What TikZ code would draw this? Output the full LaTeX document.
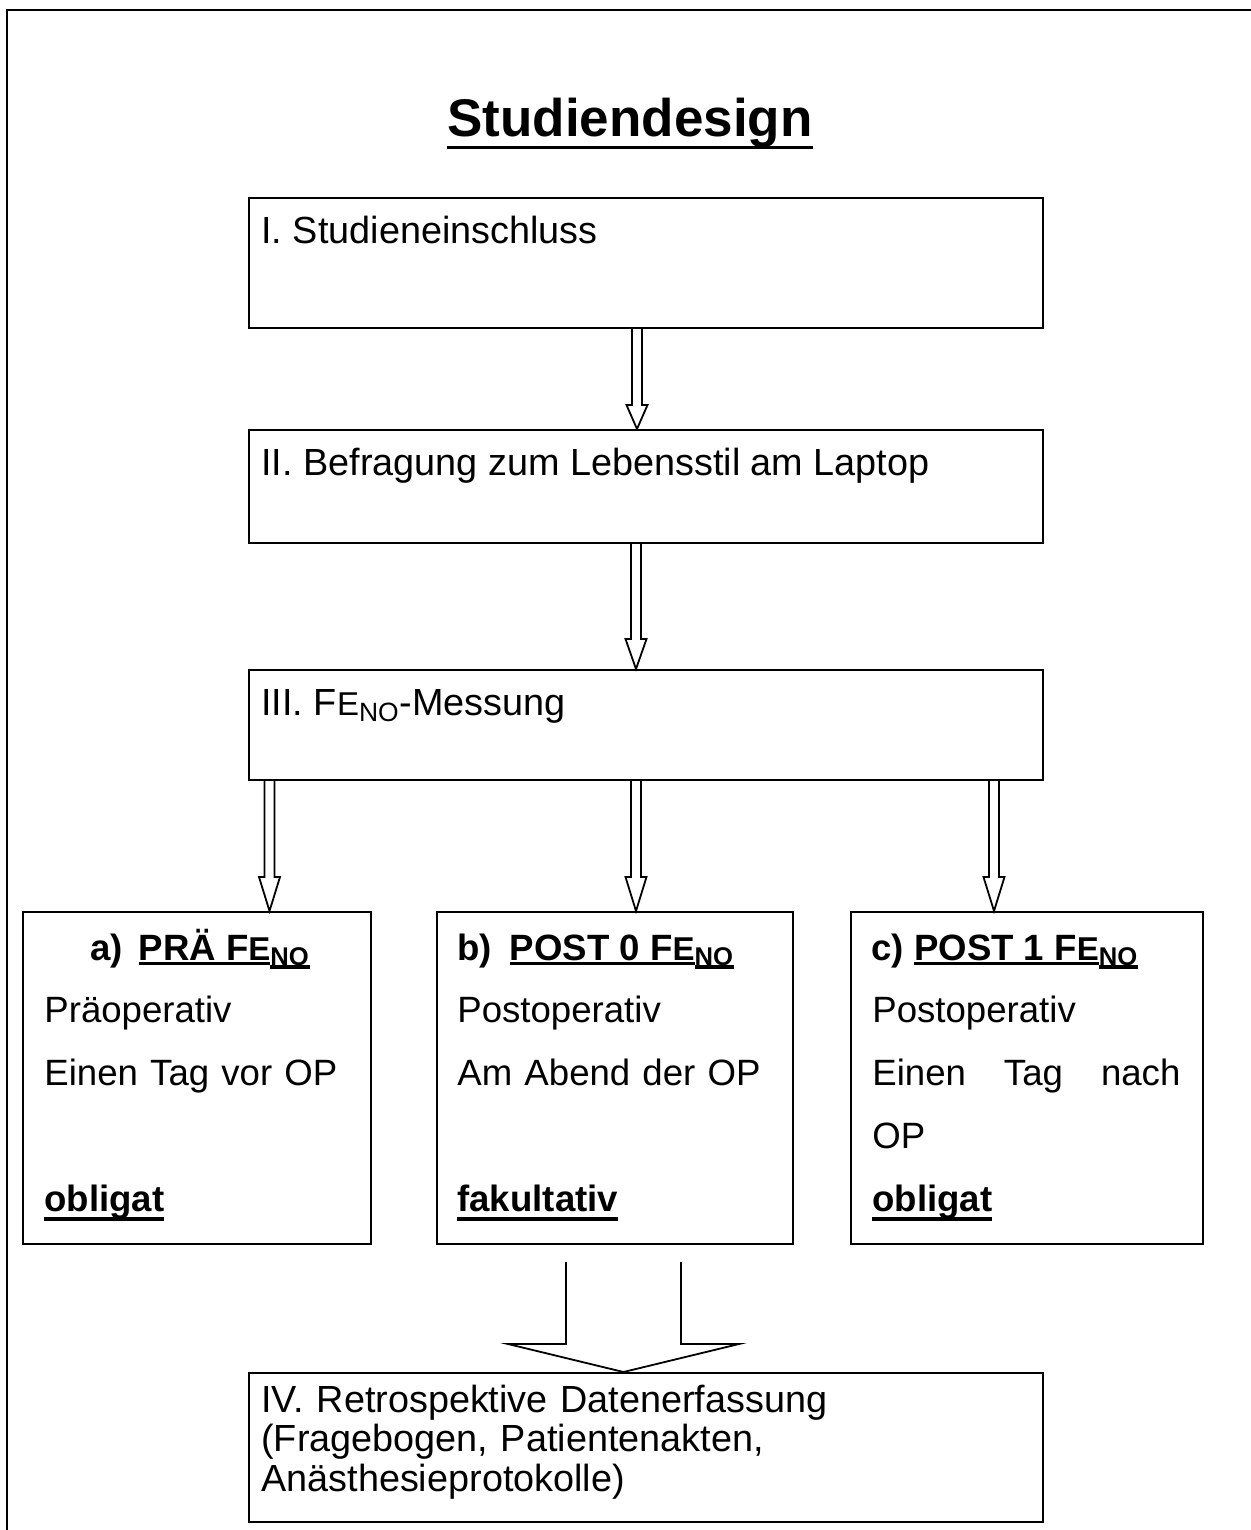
\documentclass[tikz,border=0pt]{standalone}
\usepackage{fontspec}
\setmainfont{Liberation Sans}
\usetikzlibrary{calc}

\newsavebox\ulbox
\newcommand{\ulin}[2][2.5pt]{\leavevmode\sbox\ulbox{#2}\rlap{\rule[-#1]{\wd\ulbox}{1.6pt}}\usebox\ulbox}
\newcommand{\feno}{F{\fontsize{16.5}{16.5}\selectfont E}}
\newcommand{\sno}{\textsubscript{NO}}
\newcommand{\hollow}[5]{\draw[arrowline] let \p1=(#1), \p2=(#2) in
  (\x1-#3,\y1) -- (\x1-#3,\y2+#5) -- (\x1-#4,\y2+#5) -- (\x1,\y2)
  -- (\x1+#4,\y2+#5) -- (\x1+#3,\y2+#5) -- (\x1+#3,\y1);}

\begin{document}
\begin{tikzpicture}[x=0.5pt,y=-0.5pt,line join=miter]

                \tikzset{box/.style={draw, line width=1pt, inner sep=0pt},
                         wide/.style={box, minimum width=397pt},
                         col/.style={box, minimum height=166pt},
                         txt/.style={anchor=base west, inner sep=0pt, font=\fontsize{18.9}{21}\selectfont},
                         head/.style={txt, font=\fontsize{18.3}{21}\selectfont\bfseries},
                         body/.style={txt, text width=154pt, align=left, font=\fontsize{18.3}{31.5}\selectfont},
                         arrowline/.style={line width=0.9pt}}

                \useasboundingbox (0,0) rectangle (1251,1530);
                \draw[line width=1.2pt] (1251,10) -| (7,1530);

                \node[anchor=base, inner sep=0pt, font=\fontsize{26.5}{30}\selectfont\bfseries] (title) at (630,137) {\ulin[6pt]{Studiendesign}};

                \node[wide, minimum height=65pt] (I) at (646,263) {};
                \node[wide, minimum height=56.5pt] (II) at (646,486.5) {};
                \node[wide, minimum height=55pt] (III) at (646,725) {};
                \node[col, minimum width=174pt] (a) at (197,1078) {};
                \node[col, minimum width=178pt] (b) at (615,1078) {};
                \node[col, minimum width=176pt] (c) at (1027,1078) {};
                \node[wide, minimum height=74.5pt] (IV) at (646,1447.5) {};

                \node[txt] (tI) at ($(I.north west)+(13,46)$) {I. Studieneinschluss};
                \node[txt] (tII) at ($(II.north west)+(13,46)$) {II. Befragung zum Lebensstil am Laptop};
                \node[txt] (tIII) at ($(III.north west)+(13,46)$) {III. \feno\sno-Messung};

                \node[head, anchor=base] (ha) at ($(a.north)+(3,49)$) {a)\hspace{8pt}\ulin{PRÄ \feno}\ulin[4.3pt]{\sno}};
                \node[head] (hb) at ($(b.north west)+(21,49)$) {b)\hspace{9pt}\ulin{POST 0 \feno}\ulin[4.3pt]{\sno}};
                \node[head] (hc) at ($(c.north west)+(21,49)$) {c) \ulin{POST 1 \feno}\ulin[4.3pt]{\sno}};

                \node[body] (ba) at ($(a.north west)+(22,111)$) {Präoperativ\\Einen Tag vor OP\\[31.5pt]\ulin[4.8pt]{\textbf{obligat}}};
                \node[body] (bb) at ($(b.north west)+(21,111)$) {Postoperativ\\Am Abend der OP\\[31.5pt]\ulin[4.8pt]{\textbf{fakultativ}}};
                \node[body] (bc) at ($(c.north west)+(22,111)$) {Postoperativ\\Einen\hfill Tag\hfill nach\\OP\\\ulin[4.8pt]{\textbf{obligat}}};

                \node[txt, text width=390pt, align=left, font=\fontsize{18.9}{19.75}\selectfont] (tIV) at ($(IV.north west)+(13,40)$) {IV. Retrospektive Datenerfassung\\(Fragebogen, Patientenakten,\\Anästhesieprotokolle)};

                \hollow{$(I.south)+(-9,0)$}{II.north}{2.5pt}{5.25pt}{12pt}
                \hollow{$(II.south)+(-10,0)$}{III.north}{2.5pt}{5.25pt}{15pt}
                \hollow{$(III.south west)+(21.5,0)$}{a.north}{2.5pt}{5.25pt}{17pt}
                \hollow{$(III.south)+(-10,0)$}{b.north}{2.5pt}{5.25pt}{17pt}
                \hollow{$(III.south east)+(-50,0)$}{c.north}{2.5pt}{5.25pt}{17pt}
                \hollow{$(b.south)+(8.5,17)$}{IV.north}{28.75pt}{57.75pt}{14pt}
            \end{tikzpicture}
\end{document}
